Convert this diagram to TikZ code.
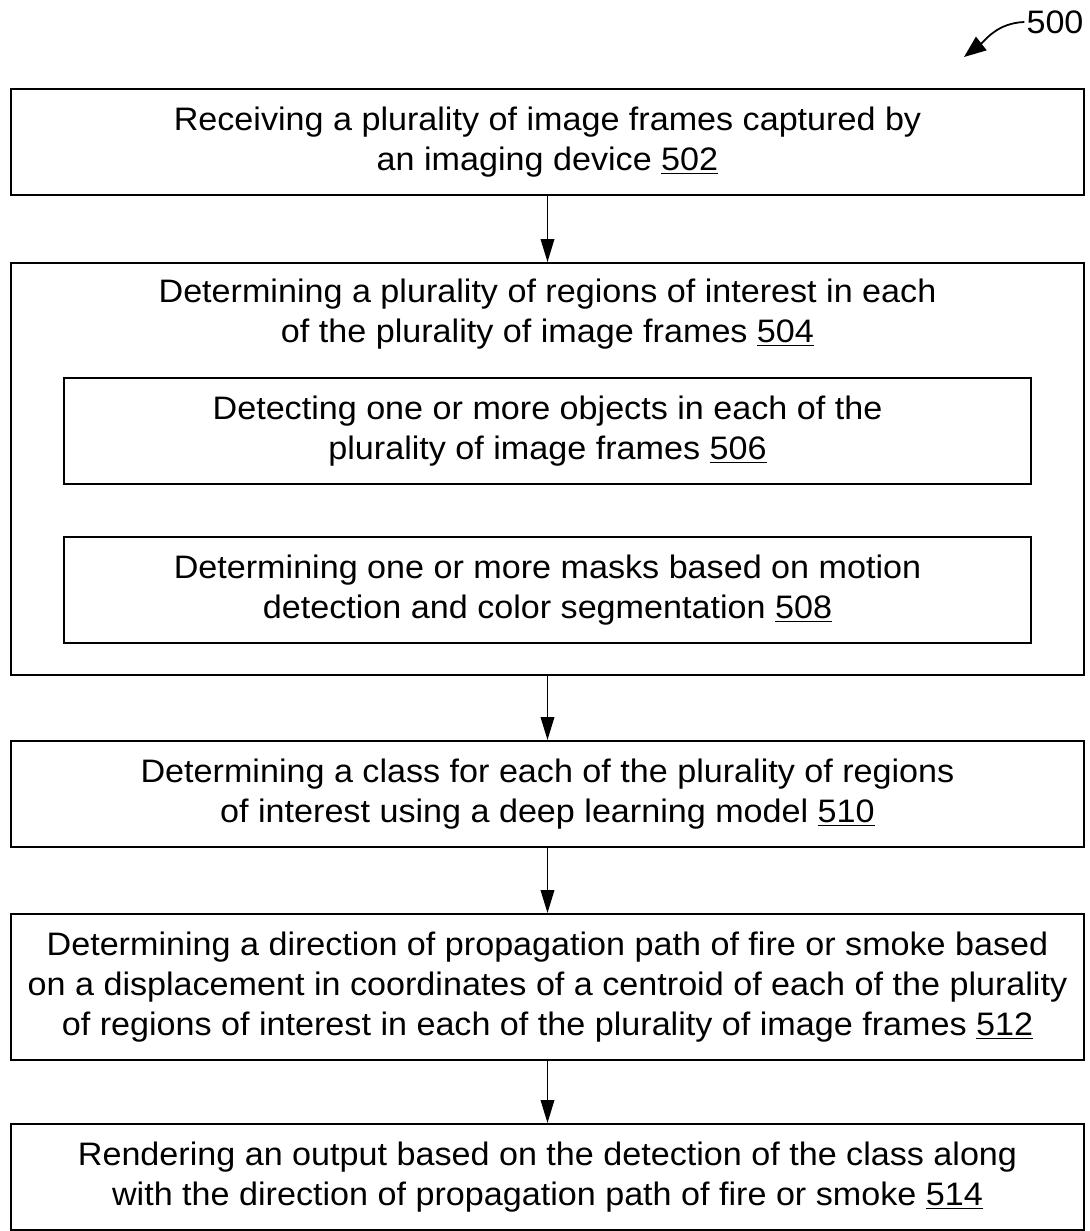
\documentclass[tikz,border=0pt]{standalone}
\usepackage{fontspec}
\setmainfont{Liberation Sans}[FakeStretch=1.05]
\usepackage{tikz}
\usetikzlibrary{
  arrows.meta,
  positioning
}
\newcommand{\steptext}{\fontsize{18.5}{22.8}\selectfont}

\begin{document}
\begin{tikzpicture}[
  x=0.02cm, y=-0.02cm,
  stepbox/.style={draw, line width=1.1pt, minimum width=21.46cm, minimum height=2.12cm,
                  align=center, inner sep=0pt, font=\steptext},
  subbox/.style={stepbox, minimum width=19.34cm},
  arr/.style={-{Triangle[length=0.46cm, width=0.27cm]}, line width=1.1pt},
  refarr/.style={-{Triangle[length=0.44cm, width=0.34cm]}, line width=1pt}
]
  \useasboundingbox (0,0) rectangle (1089,1231);

  % Figure number
  \node[font=\steptext, inner sep=1pt] (lbl500) at (1055,22) {500};
  \coordinate (tip500) at (964,57);
  \draw[refarr] (lbl500.west) to[out=182, in=38] (tip500);

  % Steps
  \node[stepbox] (b502) at (547.5,142)
    {Receiving a plurality of image frames captured by\\ an imaging device \underline{502}};

  \node[stepbox, minimum height=8.24cm] (b504) at (547.5,469) {};
  \node[font=\steptext, align=center, inner sep=0pt] (t504) at (547.5,314)
    {Determining a plurality of regions of interest in each\\ of the plurality of image frames \underline{504}};
  \node[subbox] (b506) at (547.5,431)
    {Detecting one or more objects in each of the\\ plurality of image frames \underline{506}};
  \node[subbox] (b508) at (547.5,590)
    {Determining one or more masks based on motion\\ detection and color segmentation \underline{508}};

  \node[stepbox] (b510) at (547.5,794)
    {Determining a class for each of the plurality of regions\\ of interest using a deep learning model \underline{510}};
  \node[stepbox, minimum height=2.92cm] (b512) at (547.5,987)
    {Determining a direction of propagation path of fire or smoke based\\ on a displacement in coordinates of a centroid of each of the plurality\\ of regions of interest in each of the plurality of image frames \underline{512}};
  \node[stepbox] (b514) at (547.5,1177)
    {Rendering an output based on the detection of the class along\\ with the direction of propagation path of fire or smoke \underline{514}};

  % Arrows
  \draw[arr] (b502) -- (b504);
  \draw[arr] (b504) -- (b510);
  \draw[arr] (b510) -- (b512);
  \draw[arr] (b512) -- (b514);
\end{tikzpicture}
\end{document}
